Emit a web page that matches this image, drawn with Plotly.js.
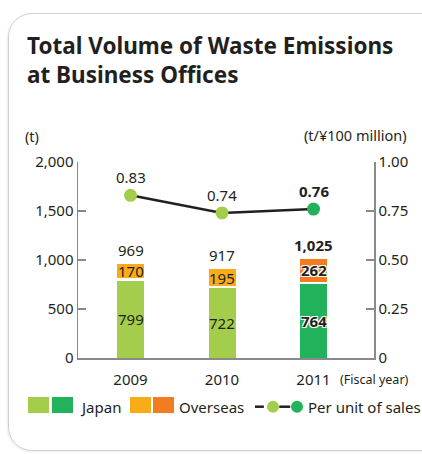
<!DOCTYPE html>
<html><head><meta charset="utf-8">
<script src="https://cdn.plot.ly/plotly-3.0.1.min.js"></script>
<style>
html,body{margin:0;padding:0;background:#fff;overflow:hidden}
#chart{width:422px;height:454px}
#frame{position:absolute;left:8px;top:13px;width:440px;height:436px;border:1.5px solid #cfcfcf;border-radius:24px;pointer-events:none;box-shadow:-1px 1px 2px rgba(0,0,0,0.08)}
</style></head>
<body>
<div id="chart"></div>
<div id="frame"></div>
<script>
const years = ["2009", "2010", "2011"];
const japan = [799, 722, 764];
const overseas = [170, 195, 262];
const totals = [969, 917, 1025];
const totalLabels = ["969", "917", "<b>1,025</b>"];
const perUnit = [0.83, 0.74, 0.76];
const perUnitLabels = ["0.83", "0.74", "<b>0.76</b>"];
const leftTicks = [0, 500, 1000, 1500, 2000];
const leftTickText = ["0", "500", "1,000", "1,500", "2,000"];
const rightTicks = [0, 0.25, 0.5, 0.75, 1.0];
const rightTickText = ["0", "0.25", "0.50", "0.75", "1.00"];

const LG = "#a5cd4c", DG = "#22b25c", YO = "#f9ac1a", OR = "#f37b21";
const TXT = "#231f20", AX = "#8a8a8a";
const F = "Noto Sans, sans-serif";
const idx = years.map((_, i) => i);

const traces = [
  {type: "bar", x: idx, y: japan, width: 0.295, marker: {color: [LG, LG, DG]}, hoverinfo: "skip", showlegend: false},
  {type: "bar", x: idx, y: overseas, width: 0.322, marker: {color: [YO, YO, OR], line: {color: "#fff", width: 2.5}}, hoverinfo: "skip", showlegend: false},
  {type: "scatter", mode: "lines+markers", x: idx, y: perUnit, yaxis: "y2",
   line: {color: TXT, width: 2.5}, marker: {size: 13, color: [LG, LG, DG]}, hoverinfo: "skip", showlegend: false}
];

const ann = [];
const halo = "1px 1px 0 #fff, -1px -1px 0 #fff, 1px -1px 0 #fff, -1px 1px 0 #fff";
idx.forEach(i => {
  const last = i === 2;
  ann.push({x: i, y: totals[i], xref: "x", yref: "y", text: totalLabels[i], showarrow: false, yanchor: "middle", yshift: 13, font: {family: F, size: 15, color: TXT}});
  ann.push({x: i, y: japan[i] + overseas[i] / 2, xref: "x", yref: "y", text: last ? "<b>" + overseas[i] + "</b>" : String(overseas[i]), showarrow: false, yanchor: "middle", font: {family: F, size: 15, color: TXT, shadow: last ? halo : "none"}});
  ann.push({x: i, y: japan[i] / 2, xref: "x", yref: "y", text: last ? "<b>" + japan[i] + "</b>" : String(japan[i]), showarrow: false, yanchor: "middle", font: {family: F, size: 15, color: TXT, shadow: last ? halo : "none"}});
  ann.push({x: i, y: perUnit[i], xref: "x", yref: "y2", text: perUnitLabels[i], showarrow: false, yanchor: "middle", yshift: 18, font: {family: F, size: 15, color: TXT}});
});
function pa(x, y, text, size, xa) {
  ann.push({xref: "paper", yref: "paper", x: x, y: y, xanchor: xa || "center", yanchor: "middle", text: text, showarrow: false, font: {family: F, size: size, color: TXT}});
}
pa(-0.154, 1.133, "(t)", 14.5);
pa(0.9375, 1.138, "(t/¥100 million)", 14.5);
pa(1.0, -0.112, "(Fiscal year)", 12.5);
pa(0.0, -0.248, "Japan", 15, "left");
pa(0.334, -0.248, "Overseas", 15, "left");
pa(0.77, -0.248, "Per unit of sales", 15, "left");

function rect(x0, x1, c) { return {type: "rect", xref: "paper", yref: "paper", x0: x0, x1: x1, y0: -0.281, y1: -0.199, fillcolor: c, line: {width: 0}}; }
function dot(cx, c) { return {type: "circle", xref: "paper", yref: "paper", x0: cx - 0.0203, x1: cx + 0.0203, y0: -0.2485 - 0.0306, y1: -0.2485 + 0.0306, fillcolor: c, line: {width: 0}}; }
function dash(x0, x1) { return {type: "line", xref: "paper", yref: "paper", x0: x0, x1: x1, y0: -0.2485, y1: -0.2485, line: {color: TXT, width: 2.5}}; }
const shapes = [
  rect(-0.169, -0.098, LG), rect(-0.0878, -0.0169, DG),
  rect(0.1757, 0.2466, YO), rect(0.2534, 0.3243, OR),
  dash(0.598, 0.628), dash(0.68, 0.717),
  dot(0.6588, LG), dot(0.7399, DG)
];

const layout = {
  width: 422, height: 454,
  margin: {l: 78, r: 48, t: 162, b: 96},
  paper_bgcolor: "#fff", plot_bgcolor: "#fff",
  barmode: "stack", bargap: 0,
  title: {text: "<b>Total Volume of Waste Emissions<br>at Business Offices</b>", xref: "container", yref: "container", x: 0.064, xanchor: "left", y: 0.882, yanchor: "top", font: {family: F, size: 22.5, color: TXT}},
  xaxis: {range: [-0.574, 2.661], tickvals: idx, ticktext: years, showline: true, linecolor: AX, linewidth: 1.5, ticks: "", showgrid: false, zeroline: false, ticklabelstandoff: 7, tickfont: {family: F, size: 15, color: TXT}, fixedrange: true},
  yaxis: {range: [0, 2000], tickvals: leftTicks, ticktext: leftTickText, showline: true, linecolor: AX, linewidth: 1.5, ticks: "inside", ticklen: 8, tickcolor: AX, tickwidth: 1.5, showgrid: false, zeroline: false, tickfont: {family: F, size: 15, color: TXT}, fixedrange: true},
  yaxis2: {range: [0, 1], overlaying: "y", side: "right", tickvals: rightTicks, ticktext: rightTickText, showline: true, linecolor: AX, linewidth: 1.5, ticks: "inside", ticklen: 8, tickcolor: AX, tickwidth: 1.5, showgrid: false, zeroline: false, tickfont: {family: F, size: 15, color: TXT}, fixedrange: true},
  annotations: ann,
  shapes: shapes,
  showlegend: false
};
Plotly.newPlot("chart", traces, layout, {displayModeBar: false, staticPlot: true});
</script>
</body></html>
